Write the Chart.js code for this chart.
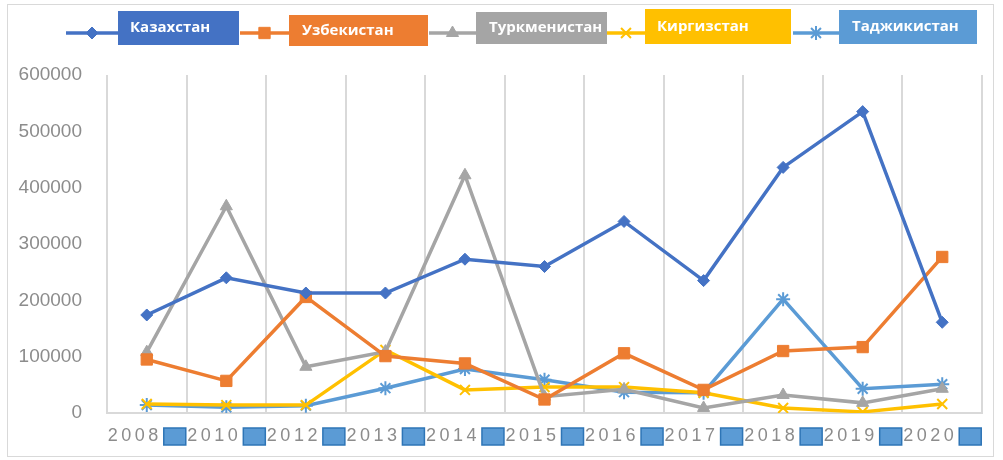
<!DOCTYPE html>
<html>
<head>
<meta charset="utf-8">
<script src="https://cdn.jsdelivr.net/npm/chart.js@4.4.1/dist/chart.umd.min.js"></script>
<style>
  html, body { margin: 0; padding: 0; background: #fff; }
  #wrap { position: relative; width: 1003px; height: 460px; }
  #frame { position: absolute; left: 7px; top: 4px; width: 987px; height: 453px; border: 1px solid #d9d9d9; box-sizing: border-box; }
  canvas { position: absolute; left: 0; top: 0; }
</style>
</head>
<body>
<div id="wrap">
  <div id="frame"></div>
  <canvas id="canvas" width="1003" height="460"></canvas>
</div>
<script>
// years on the x axis
var years = ["2008", "2010", "2012", "2013", "2014", "2015", "2016", "2017", "2018", "2019", "2020"];

// values
var kazakhstan   = [174000, 240000, 213000, 213000, 273000, 260000, 340000, 235000, 436000, 535000, 161000];
var uzbekistan   = [95000, 57000, 206000, 101000, 88000, 24000, 106000, 41000, 110000, 117000, 277000];
var turkmenistan = [108000, 367000, 82000, 109000, 422000, 29000, 42000, 9000, 32000, 18000, 43000];
var kyrgyzstan   = [16000, 14000, 14000, 112000, 41000, 46000, 46000, 36000, 9000, 2000, 16000];
var tajikistan   = [14000, 10000, 13000, 44000, 78000, 59000, 37000, 36000, 202000, 43000, 51000];

var seriesNames = ["Казахстан", "Узбекистан", "Туркменистан", "Киргизстан", "Таджикистан"];
var yTicksMax = 600000;
var yStep = 100000;

var colors = ["#4472C4", "#ED7D31", "#A5A5A5", "#FFC000", "#5B9BD5"];
var markers = ["rectRot", "rect", "triangle", "crossRot", "star"];
var markerSize = [6, 8, 7, 7, 7];
var allData = [kazakhstan, uzbekistan, turkmenistan, kyrgyzstan, tajikistan];

var canvas = document.getElementById("canvas");
var ctx = canvas.getContext("2d");

var datasets = seriesNames.map(function (name, i) {
    return {
        label: name,
        data: allData[i],
        borderColor: colors[i],
        backgroundColor: colors[i],
        pointBorderColor: colors[i],
        pointBackgroundColor: colors[i],
        pointStyle: markers[i],
        pointRadius: markerSize[i],
        pointBorderWidth: (i >= 3) ? 2 : 1,
        borderWidth: 3.5,
        tension: 0
    };
});

// legend boxes, drawn on the canvas (box positions only, no data)
var legendBoxes = [
    { x: 118, y: 11, w: 121, h: 34, lx1: 66, lx2: 118, tx: 130 },
    { x: 289, y: 15, w: 139, h: 31, lx1: 240, lx2: 289, tx: 302 },
    { x: 476, y: 12, w: 131, h: 32, lx1: 429, lx2: 476, tx: 489 },
    { x: 645, y: 9, w: 146, h: 35, lx1: 607, lx2: 645, tx: 657 },
    { x: 839, y: 10, w: 138, h: 34, lx1: 793, lx2: 839, tx: 852 }
];

const boxLegend = {
    id: "boxLegend",
    afterDraw(chart) {
        const c = chart.ctx;
        chart.data.datasets.forEach((ds, i) => {
            const b = legendBoxes[i];
            c.save();
            // line with marker
            c.strokeStyle = ds.borderColor;
            c.fillStyle = ds.borderColor;
            c.lineWidth = 3.5;
            c.beginPath();
            c.moveTo(b.lx1, 33);
            c.lineTo(b.lx2, 33);
            c.stroke();
            c.lineWidth = ds.pointBorderWidth;
            Chart.helpers.drawPoint(c, {
                pointStyle: ds.pointStyle,
                radius: ds.pointRadius,
                borderWidth: ds.pointBorderWidth
            }, (b.lx1 + b.lx2) / 2, 33);
            // box
            c.fillStyle = ds.borderColor;
            c.fillRect(b.x, b.y, b.w, b.h);
            c.fillStyle = "#ffffff";
            c.font = "bold 15px 'Open Sans'";
            c.textBaseline = "middle";
            c.textAlign = "left";
            c.fillText(ds.label, b.tx, b.y + b.h / 2);
            c.restore();
        });
    }
};

// x labels with spaced digits and a small blue square after each
const spacedLabels = {
    id: "spacedLabels",
    afterDraw(chart) {
        const c = chart.ctx;
        const xs = chart.scales.x;
        c.save();
        years.forEach((yr, i) => {
            const x = xs.getPixelForValue(i);
            c.letterSpacing = "3.5px";
            c.font = "18px 'Liberation Sans'";
            c.fillStyle = "#8c8c8c";
            c.textBaseline = "middle";
            c.textAlign = "left";
            c.fillText(yr, x - 39, 436);
            c.letterSpacing = "0px";
            c.fillStyle = "#5B9BD5";
            c.fillRect(x + 17, 428, 22, 17);
            c.strokeStyle = "#2E75B6";
            c.lineWidth = 1.5;
            c.strokeRect(x + 17, 428, 22, 17);
        });
        c.restore();
    }
};

new Chart(ctx, {
    type: "line",
    data: {
        labels: years,
        datasets: datasets
    },
    options: {
        responsive: false,
        animation: false,
        layout: { padding: { top: 75, right: 21, left: 0, bottom: 0 } },
        plugins: {
            legend: { display: false },
            tooltip: { enabled: false }
        },
        scales: {
            x: {
                offset: true,
                grid: { display: true, color: "#d9d9d9", lineWidth: 2, offset: true, drawTicks: false },
                border: { display: true, color: "#d9d9d9", width: 2 },
                ticks: { display: false },
                afterFit: function (s) { s.height = 47; }
            },
            y: {
                min: 0,
                max: yTicksMax,
                grid: { display: false },
                border: { display: false },
                ticks: {
                    stepSize: yStep,
                    color: "#8c8c8c",
                    padding: 17,
                    font: { family: "'Liberation Sans'", size: 19 },
                    callback: function (v) { return v; }
                },
                afterFit: function (s) { s.width = 107; }
            }
        }
    },
    plugins: [boxLegend, spacedLabels]
});
</script>
</body>
</html>
